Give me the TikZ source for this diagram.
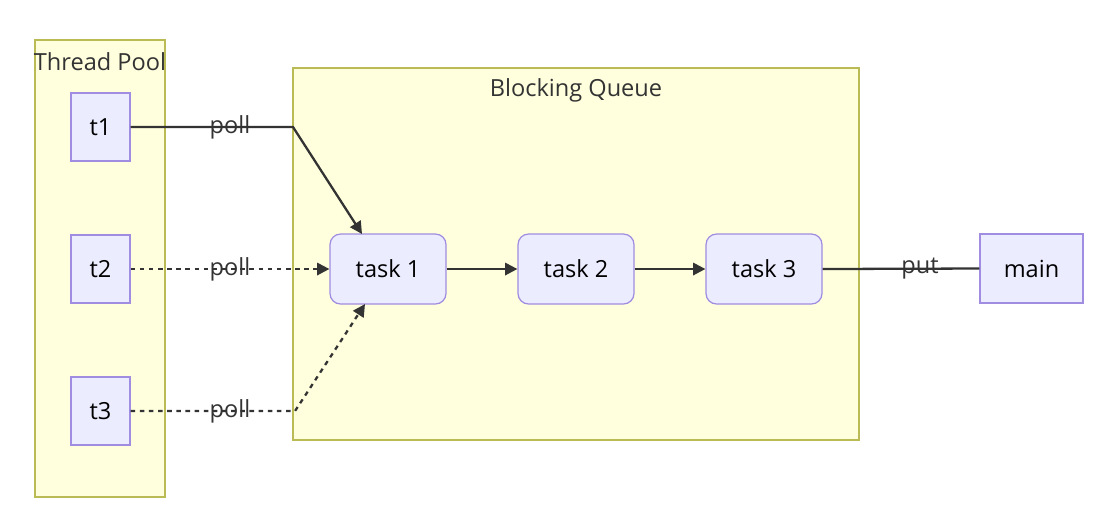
\documentclass[tikz,border=0pt]{standalone}
\usepackage{fontspec}
\setmainfont{Open Sans}
\usetikzlibrary{arrows.meta}
\definecolor{nodef}{HTML}{ECECFF}
\definecolor{nodes}{HTML}{A08CE0}
\definecolor{clf}{HTML}{FFFFDE}
\definecolor{cls}{HTML}{BBBB55}
\definecolor{edge}{HTML}{333333}
\begin{document}
\begin{tikzpicture}[x=0.01cm,y=-0.01cm,
  cl/.style={draw=cls,fill=clf,line width=0.4pt},
  nd/.style={draw=nodes,fill=nodef,line width=0.35pt,font=\fontsize{6.7}{8}\selectfont,inner sep=0},
  lb/.style={font=\fontsize{6.7}{8}\selectfont,text=edge},
  ed/.style={draw=edge,line width=0.65pt},
  dt/.style={dash pattern=on 1.3pt off 1.3pt},
  ar/.style={ed,-{Triangle[length=3.5pt,width=3.5pt]}}]
\useasboundingbox (0,0) rectangle (1101,523);
\draw[cl] (35,40) rectangle (165,497);
\node[lb] (tp) at (100,62) {Thread Pool};
\draw[cl] (293,68) rectangle (859,440);
\node[lb] (bq) at (576,90) {Blocking Queue};
\node[nd,minimum width=59*0.01cm,minimum height=68*0.01cm] (t1) at (100.5,127) {t1};
\node[nd,minimum width=59*0.01cm,minimum height=68*0.01cm] (t2) at (100.5,269) {t2};
\node[nd,minimum width=59*0.01cm,minimum height=68*0.01cm] (t3) at (100.5,411) {t3};
\node[nd,rounded corners=3pt,minimum width=116*0.01cm,minimum height=70*0.01cm] (k1) at (388,269) {task 1};
\node[nd,rounded corners=3pt,minimum width=116*0.01cm,minimum height=70*0.01cm] (k2) at (576,269) {task 2};
\node[nd,rounded corners=3pt,minimum width=116*0.01cm,minimum height=70*0.01cm] (k3) at (764,269) {task 3};
\node[nd,minimum width=103*0.01cm,minimum height=69*0.01cm] (mn) at (1031.5,268.5) {main};
\coordinate (c1) at (293,127);
\coordinate (c3) at (295,411);
\draw[ar] (t1.east) -- (c1) -- (362,234);
\draw[ar,dt] (t2.east) -- (k1.west);
\draw[ar,dt] (t3.east) -- (c3) -- (365,304);
\draw[ar] (k1) -- (k2);
\draw[ar] (k2) -- (k3);
\draw[ed] (k3.east) -- (mn.west);
\node[lb] (p1) at (230,127) {poll};
\node[lb] (p2) at (230,269) {poll};
\node[lb] (p3) at (230,411) {poll};
\node[lb] (pu) at (920,269) {put};
\end{tikzpicture}
\end{document}
